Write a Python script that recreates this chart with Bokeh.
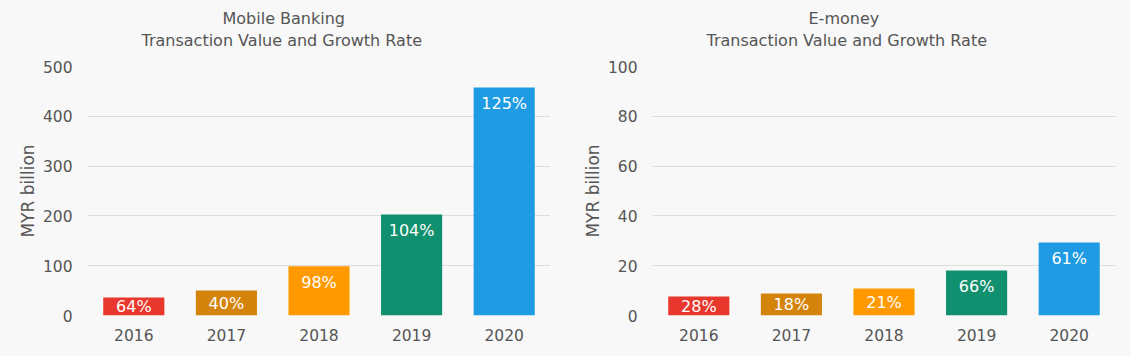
from bokeh.plotting import figure
from bokeh.layouts import row
from bokeh.models import ColumnDataSource, Range1d, Title, FixedTicker
from bokeh.core.properties import value
from bokeh.embed import file_html
from bokeh.resources import INLINE

years = ["2016", "2017", "2018", "2019", "2020"]
colors = ["#E8372C", "#D4830B", "#FF9900", "#10906E", "#1E9BE2"]

mobile_values = [36, 50, 99, 203, 458]
mobile_growth = ["64%", "40%", "98%", "104%", "125%"]

emoney_values = [7.6, 8.8, 10.8, 18.1, 29.3]
emoney_growth = ["28%", "18%", "21%", "66%", "61%"]

FONT = "DejaVu Sans"
TXT = "#555555"
BG = "#F8F8F8"


def make_chart(title1, title2, vals, labels, ymax, step, off1, off2):
    W, H = 565, 356
    mt, mb, ml, mr = 66, 41, 87, 15
    p = figure(width=W, height=H, x_range=years, y_range=Range1d(0, ymax),
               output_backend="svg", toolbar_location=None, title=None,
               min_border_left=ml, min_border_right=mr,
               min_border_top=mt, min_border_bottom=mb,
               background_fill_color=BG, border_fill_color=BG, outline_line_color=None)

    # blank spacer between frame and titles
    p.add_layout(Title(text=" ", text_color=BG, text_font=FONT, text_font_size="10px",
                       standoff=3), "above")
    p.add_layout(Title(text=title2, align="left", offset=off2, text_font=FONT,
                       text_font_size="16px", text_font_style="normal",
                       text_color=TXT, standoff=2), "above")
    p.add_layout(Title(text=title1, align="left", offset=off1, text_font=FONT,
                       text_font_size="16px", text_font_style="normal",
                       text_color=TXT, standoff=0), "above")

    frame_h = H - mt - mb
    ppu = frame_h / ymax
    label_y = [v - min(16.0, v * ppu / 2.0) / ppu for v in vals]
    src = ColumnDataSource(dict(x=years, top=vals, color=colors, lab=labels, ly=label_y))
    p.vbar(x="x", top="top", width=0.66, color="color", line_color=None, source=src)
    p.text(x="x", y="ly", text="lab", source=src, text_color="white",
           text_font=value(FONT), text_font_size="16px",
           text_align="center", text_baseline="middle")

    p.x_range.range_padding = 0
    p.xgrid.grid_line_color = None
    p.ygrid.grid_line_color = "#DDDDDD"
    p.ygrid.grid_line_width = 1
    p.yaxis.ticker = FixedTicker(ticks=list(range(0, ymax + 1, step)))

    for ax in (p.xaxis[0], p.yaxis[0]):
        ax.axis_line_color = None
        ax.major_tick_line_color = None
        ax.minor_tick_line_color = None
        ax.major_tick_out = 0
        ax.major_tick_in = 0
        ax.major_label_text_font = FONT
        ax.major_label_text_font_size = "15.5px"
        ax.major_label_text_color = TXT
    p.yaxis.major_label_standoff = 15
    p.xaxis.major_label_standoff = 13
    p.yaxis.axis_label = "MYR billion"
    p.yaxis.axis_label_text_font = FONT
    p.yaxis.axis_label_text_font_size = "17px"
    p.yaxis.axis_label_text_font_style = "normal"
    p.yaxis.axis_label_text_color = TXT
    p.yaxis.axis_label_standoff = 2
    return p


p1 = make_chart("Mobile Banking", "Transaction Value and Growth Rate",
                mobile_values, mobile_growth, 500, 100, 135, 54)
p2 = make_chart("E-money", "Transaction Value and Growth Rate",
                emoney_values, emoney_growth, 100, 20, 156, 54)

layout = row(p1, p2, spacing=0)
layout.styles = {"background-color": BG}
open("out.html", "w").write(file_html(layout, INLINE))
